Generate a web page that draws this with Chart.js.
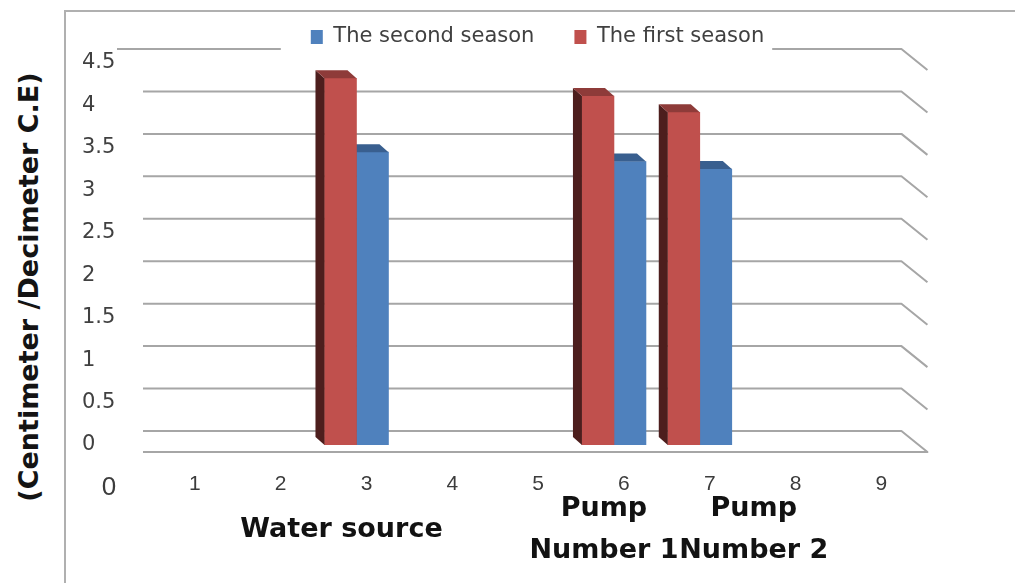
<!DOCTYPE html>
<html>
<head>
<meta charset="utf-8">
<script src="https://cdn.jsdelivr.net/npm/chart.js@4/dist/chart.umd.min.js"></script>
<style>
  html, body { margin: 0; padding: 0; background: #ffffff; }
  #wrap { position: relative; width: 1015px; height: 583px; overflow: hidden; }
  #frame { position: absolute; left: 64px; top: 10px; width: 1200px; height: 800px;
           border-left: 2px solid #b0b0b0; border-top: 2px solid #b0b0b0; }
  #ytitle { position: absolute; left: 28px; top: 287px; white-space: nowrap;
            transform: translate(-50%, -50%) rotate(-90deg);
            font: bold 27px "DejaVu Sans", sans-serif; color: #141414; }
  canvas { position: absolute; left: 0; top: 0; }
</style>
</head>
<body>
<div id="wrap">
  <div id="frame"></div>
  <div id="ytitle">(Centimeter /Decimeter C.E)</div>
  <canvas id="chart" width="1015" height="583"></canvas>
</div>
<script>
// Sites along the numeric axis and the two seasons measured at each
const categories = ['Water source', ['Pump', 'Number 1'], ['Pump', 'Number 2']];
const categoryPositions = [3, 6, 7];
const firstSeason = [4.32, 4.11, 3.92];
const secondSeason = [3.45, 3.34, 3.25];
const xTickValues = [0, 1, 2, 3, 4, 5, 6, 7, 8, 9];
const yTickValues = [0, 0.5, 1, 1.5, 2, 2.5, 3, 3.5, 4, 4.5];

const FONT = '"DejaVu Sans", sans-serif';
const TEXT_GREY = '#404040';

// Depth of the 3D floor / back wall (back-left to front-right)
const WALL = { color: '#a6a6a6', width: 2, backRise: 14, depthX: 26, depthY: 21 };
// Depth faces of each column
const BAR_DEPTH = { dx: 9, dy: 8, shiftX: -10 };
const faceColors = {
  'The first season':  { side: '#4d1e1d', top: '#8e3b39' },
  'The second season': { side: '#27415f', top: '#395f8f' }
};

// Back wall gridlines, folded forward at the right, plus the front floor edge
const wallPlugin = {
  id: 'wall3d',
  beforeDatasetsDraw(chart) {
    const { ctx, scales: { x, y }, legend } = chart;
    const x0 = x.getPixelForValue(xTickValues[0]);
    const xEnd = x.getPixelForValue(xTickValues[xTickValues.length - 1]);
    const backRight = xEnd + 20;
    const frontRight = backRight + WALL.depthX;
    const leftInner = x0 + 34;
    let gap = null;
    if (legend && legend.legendHitBoxes && legend.legendHitBoxes.length) {
      const hb = legend.legendHitBoxes;
      gap = {
        from: Math.min(...hb.map(b => b.left)) - 30,
        to: Math.max(...hb.map(b => b.left + b.width)) + 8,
        top: legend.top, bottom: legend.bottom + 8
      };
    }
    ctx.save();
    ctx.strokeStyle = WALL.color;
    ctx.lineWidth = WALL.width;
    ctx.lineJoin = 'round';
    const topValue = yTickValues[yTickValues.length - 1];
    yTickValues.forEach(v => {
      const yb = y.getPixelForValue(v) - WALL.backRise;
      const start = v === topValue ? x0 + 8 : leftInner;
      ctx.beginPath();
      if (gap && yb >= gap.top && yb <= gap.bottom) {
        ctx.moveTo(start, yb); ctx.lineTo(gap.from, yb);
        ctx.moveTo(gap.to, yb);
      } else {
        ctx.moveTo(start, yb);
      }
      ctx.lineTo(backRight, yb);
      ctx.lineTo(frontRight, yb + WALL.depthY);
      if (v === 0) ctx.lineTo(leftInner, yb + WALL.depthY);
      ctx.stroke();
    });
    ctx.restore();
  }
};

// Columns sit behind the front plane: shift them and add side and top faces
const barDepthPlugin = {
  id: 'barDepth',
  beforeDatasetDraw(chart) {
    chart.ctx.save();
    chart.ctx.translate(BAR_DEPTH.shiftX, 0);
  },
  afterDatasetDraw(chart, args) {
    const { ctx } = chart;
    const ds = chart.data.datasets[args.index];
    const col = faceColors[ds.label];
    const { dx, dy } = BAR_DEPTH;
    args.meta.data.forEach(bar => {
      const { x, y, base, width } = bar.getProps(['x', 'y', 'base', 'width'], true);
      const l = x - width / 2, r = x + width / 2;
      ctx.fillStyle = col.side;
      ctx.beginPath();
      ctx.moveTo(l, y); ctx.lineTo(l - dx, y - dy);
      ctx.lineTo(l - dx, base - dy); ctx.lineTo(l, base);
      ctx.closePath(); ctx.fill();
      ctx.fillStyle = col.top;
      ctx.beginPath();
      ctx.moveTo(l, y); ctx.lineTo(r, y);
      ctx.lineTo(r - dx, y - dy); ctx.lineTo(l - dx, y - dy);
      ctx.closePath(); ctx.fill();
    });
    ctx.restore();
  }
};

// Site names under the numeric axis
const captionOffsets = [-25, -20, 44];
const captionPlugin = {
  id: 'captions',
  afterDraw(chart) {
    const { ctx, scales: { x }, chartArea } = chart;
    ctx.save();
    ctx.font = 'bold 27px ' + FONT;
    ctx.fillStyle = '#121212';
    ctx.textAlign = 'center';
    ctx.textBaseline = 'middle';
    const cy = chartArea.bottom + 85;
    const lineGap = 42;
    categories.forEach((cat, i) => {
      const lines = Array.isArray(cat) ? cat : [cat];
      const cx = x.getPixelForValue(categoryPositions[i]) + captionOffsets[i];
      lines.forEach((t, j) => {
        ctx.fillText(t, cx, cy + (j - (lines.length - 1) / 2) * lineGap);
      });
    });
    ctx.restore();
  }
};

new Chart(document.getElementById('chart'), {
  type: 'bar',
  data: {
    datasets: [
      {
        label: 'The first season',
        data: categoryPositions.map((p, i) => ({ x: p, y: firstSeason[i] })),
        backgroundColor: '#c0504d',
        borderWidth: 0
      },
      {
        label: 'The second season',
        data: categoryPositions.map((p, i) => ({ x: p, y: secondSeason[i] })),
        backgroundColor: '#4f81bd',
        borderWidth: 0
      }
    ]
  },
  options: {
    responsive: false,
    animation: false,
    barThickness: 32,
    layout: { padding: { top: -13.5, left: 82, right: 22, bottom: 78 } },
    scales: {
      x: {
        type: 'linear',
        offset: false,
        min: 0,
        max: 10.3,
        grid: { display: false, drawTicks: false, offset: false },
        border: { display: false },
        afterBuildTicks: s => { s.ticks = xTickValues.map(v => ({ value: v })); },
        afterFit: s => { s.height = 60; },
        ticks: {
          padding: 27,
          color: '#3c3c3c',
          font: ctx => ({ family: '"Liberation Sans", sans-serif', size: ctx.tick && ctx.tick.value === 0 ? 26 : 21 }),
          callback: v => String(v)
        }
      },
      // blank band between the legend and the top of the plot
      xTop: {
        type: 'linear',
        position: 'top',
        grid: { display: false, drawTicks: false },
        border: { display: false },
        ticks: { display: false },
        afterFit: s => { s.height = 5.5; }
      },
      y: {
        min: 0,
        max: 4.5,
        grid: { display: false, drawTicks: false },
        border: { display: false },
        afterBuildTicks: s => { s.ticks = yTickValues.map(v => ({ value: v })); },
        afterFit: s => { s.width = 27; },
        ticks: {
          mirror: true,
          crossAlign: 'near',
          padding: -27,
          color: TEXT_GREY,
          font: { family: FONT, size: 21 },
          callback: v => String(v)
        }
      }
    },
    plugins: {
      legend: {
        reverse: true,
        labels: {
          boxWidth: 12,
          boxHeight: 14,
          padding: 40,
          color: TEXT_GREY,
          font: { family: FONT, size: 21 }
        }
      },
      tooltip: { enabled: false }
    }
  },
  plugins: [wallPlugin, barDepthPlugin, captionPlugin]
});
</script>
</body>
</html>
